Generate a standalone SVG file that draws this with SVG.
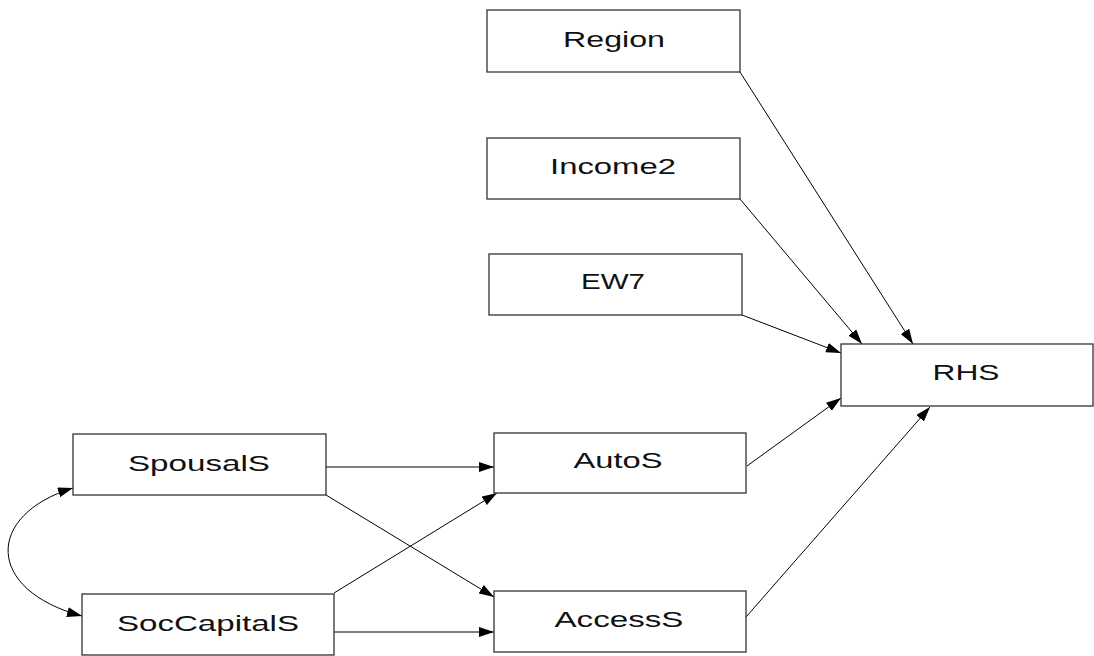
<svg xmlns="http://www.w3.org/2000/svg" width="1094" height="656" viewBox="0 0 1094 656">
<style>
.box{fill:#fff;stroke:#333;stroke-width:1.3}
.lbl{font-family:"Liberation Sans",Arial,sans-serif;font-size:22px;fill:#111;text-anchor:middle}
.edge{fill:none;stroke:#000;stroke-width:1;marker-end:url(#ah)}
</style>
<defs>
<marker id="ah" viewBox="0 0 15 10" markerUnits="userSpaceOnUse" markerWidth="15" markerHeight="10" refX="15" refY="5" orient="auto-start-reverse">
<path d="M0,0 L15,5 L0,10 z" fill="#000"/>
</marker>
</defs>
<rect width="1094" height="656" fill="#fff"/>
<g id="connectors">
<path class="edge" d="M740,72 L913,344"/>
<path class="edge" d="M740,199 L862,344"/>
<path class="edge" d="M742,315 L841,353"/>
<path class="edge" d="M747,466 L841,398"/>
<path class="edge" d="M746,617 L930,407"/>
<path class="edge" d="M326,467 L494,467"/>
<path class="edge" d="M326,495 L494,597"/>
<path class="edge" d="M334,593 L497,493"/>
<path class="edge" d="M334,632 L494,632"/>
<path class="edge" d="M73,488 C-15,515 -15,590 82,616" marker-start="url(#ah)"/>
</g>
<g id="Region"><rect class="box" x="487" y="10" width="253" height="62"/><text class="lbl" x="614" y="47" textLength="102" lengthAdjust="spacingAndGlyphs">Region</text></g>
<g id="Income2"><rect class="box" x="487" y="138" width="253" height="61"/><text class="lbl" x="613" y="174" textLength="126" lengthAdjust="spacingAndGlyphs">Income2</text></g>
<g id="EW7"><rect class="box" x="489" y="254" width="253" height="61"/><text class="lbl" x="613" y="289" textLength="64" lengthAdjust="spacingAndGlyphs">EW7</text></g>
<g id="RHS"><rect class="box" x="841" y="344" width="252" height="62"/><text class="lbl" x="966" y="380" textLength="67" lengthAdjust="spacingAndGlyphs">RHS</text></g>
<g id="SpousalS"><rect class="box" x="73" y="434" width="253" height="61"/><text class="lbl" x="199" y="471" textLength="142" lengthAdjust="spacingAndGlyphs">SpousalS</text></g>
<g id="SocCapitalS"><rect class="box" x="82" y="594" width="252" height="61"/><text class="lbl" x="208" y="631" textLength="182" lengthAdjust="spacingAndGlyphs">SocCapitalS</text></g>
<g id="AutoS"><rect class="box" x="494" y="433" width="252" height="60"/><text class="lbl" x="618" y="468" textLength="89" lengthAdjust="spacingAndGlyphs">AutoS</text></g>
<g id="AccessS"><rect class="box" x="494" y="591" width="252" height="61"/><text class="lbl" x="619" y="627" textLength="129" lengthAdjust="spacingAndGlyphs">AccessS</text></g>
</svg>
